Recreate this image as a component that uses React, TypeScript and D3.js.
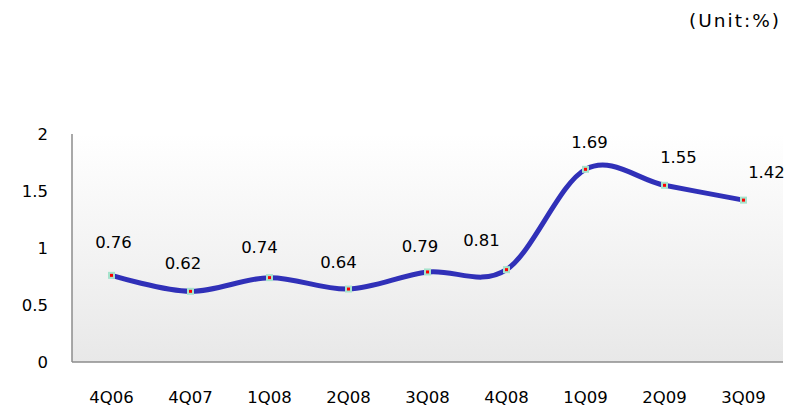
import React from "react";
import * as d3 from "d3";

// Quarterly ratio (%)
const quarters = ["4Q06", "4Q07", "1Q08", "2Q08", "3Q08", "4Q08", "1Q09", "2Q09", "3Q09"];
const ratios = [0.76, 0.62, 0.74, 0.64, 0.79, 0.81, 1.69, 1.55, 1.42];
const yTicks = [0, 0.5, 1, 1.5, 2];

// Hand-placed data label nudges (px) relative to each point
const labelDx = [2, -7.5, -10, -10, -7.5, -25, 4, 14, 23];
const labelDy = [-27.5, -22, -24.5, -21.5, -20, -23.5, -21.5, -22, -22];

const W = 798;
const H = 411;
const plot = { left: 72, right: 783, top: 134, bottom: 362 };
const FONT = "'DejaVu Sans', Verdana, sans-serif";
const FS = 16.5;

export default function App() {
  const x = d3
    .scaleBand<string>()
    .domain(quarters)
    .range([plot.left, plot.right])
    .paddingInner(0)
    .paddingOuter(0);
  const y = d3.scaleLinear().domain([0, 2]).range([plot.bottom, plot.top]);
  const cx = (q: string) => (x(q) ?? 0) + x.bandwidth() / 2;

  const pts: [number, number][] = quarters.map((q, i) => [cx(q), y(ratios[i])]);
  const line = d3.line().curve(d3.curveCatmullRom.alpha(0))(pts) ?? "";

  return (
    <svg
      width={W}
      height={H}
      style={{ position: "absolute", left: 0, top: 0, background: "#ffffff" }}
    >
      <defs>
        <linearGradient id="plotBg" x1="0" y1="0" x2="0" y2="1">
          <stop offset="0" stopColor="#ffffff" />
          <stop offset="1" stopColor="#e8e8e8" />
        </linearGradient>
      </defs>

      <text
        x={781}
        y={27}
        textAnchor="end"
        fontFamily={FONT}
        fontSize={18.5}
        letterSpacing={2}
        fill="#000"
      >
        (Unit:%)
      </text>

      <rect
        x={plot.left}
        y={plot.top}
        width={plot.right - plot.left}
        height={plot.bottom - plot.top}
        fill="url(#plotBg)"
      />
      <line x1={plot.left} x2={plot.left} y1={plot.top} y2={plot.bottom} stroke="#8c8c8c" strokeWidth={1.5} />
      <line x1={plot.left} x2={plot.right} y1={plot.bottom} y2={plot.bottom} stroke="#8c8c8c" strokeWidth={1.5} />

      {yTicks.map((t) => (
        <text
          key={t}
          x={48}
          y={y(t)}
          dy="0.36em"
          textAnchor="end"
          fontFamily={FONT}
          fontSize={FS}
          fill="#000"
        >
          {d3.format("")(t)}
        </text>
      ))}

      {quarters.map((q) => (
        <text
          key={q}
          x={cx(q)}
          y={403}
          textAnchor="middle"
          fontFamily={FONT}
          fontSize={FS}
          fill="#000"
        >
          {q}
        </text>
      ))}

      <path d={line} fill="none" stroke="#3030b8" strokeWidth={5} strokeLinecap="round" />

      {pts.map(([px, py], i) => (
        <g key={quarters[i]}>
          <rect x={px - 3.5} y={py - 3.5} width={7} height={7} fill="#a6e3cc" />
          <rect x={px - 1.5} y={py - 1.5} width={3} height={3} fill="#ff0000" />
          <text
            x={px + labelDx[i]}
            y={py + labelDy[i]}
            textAnchor="middle"
            fontFamily={FONT}
            fontSize={FS}
            fill="#000"
          >
            {ratios[i].toFixed(2)}
          </text>
        </g>
      ))}
    </svg>
  );
}
